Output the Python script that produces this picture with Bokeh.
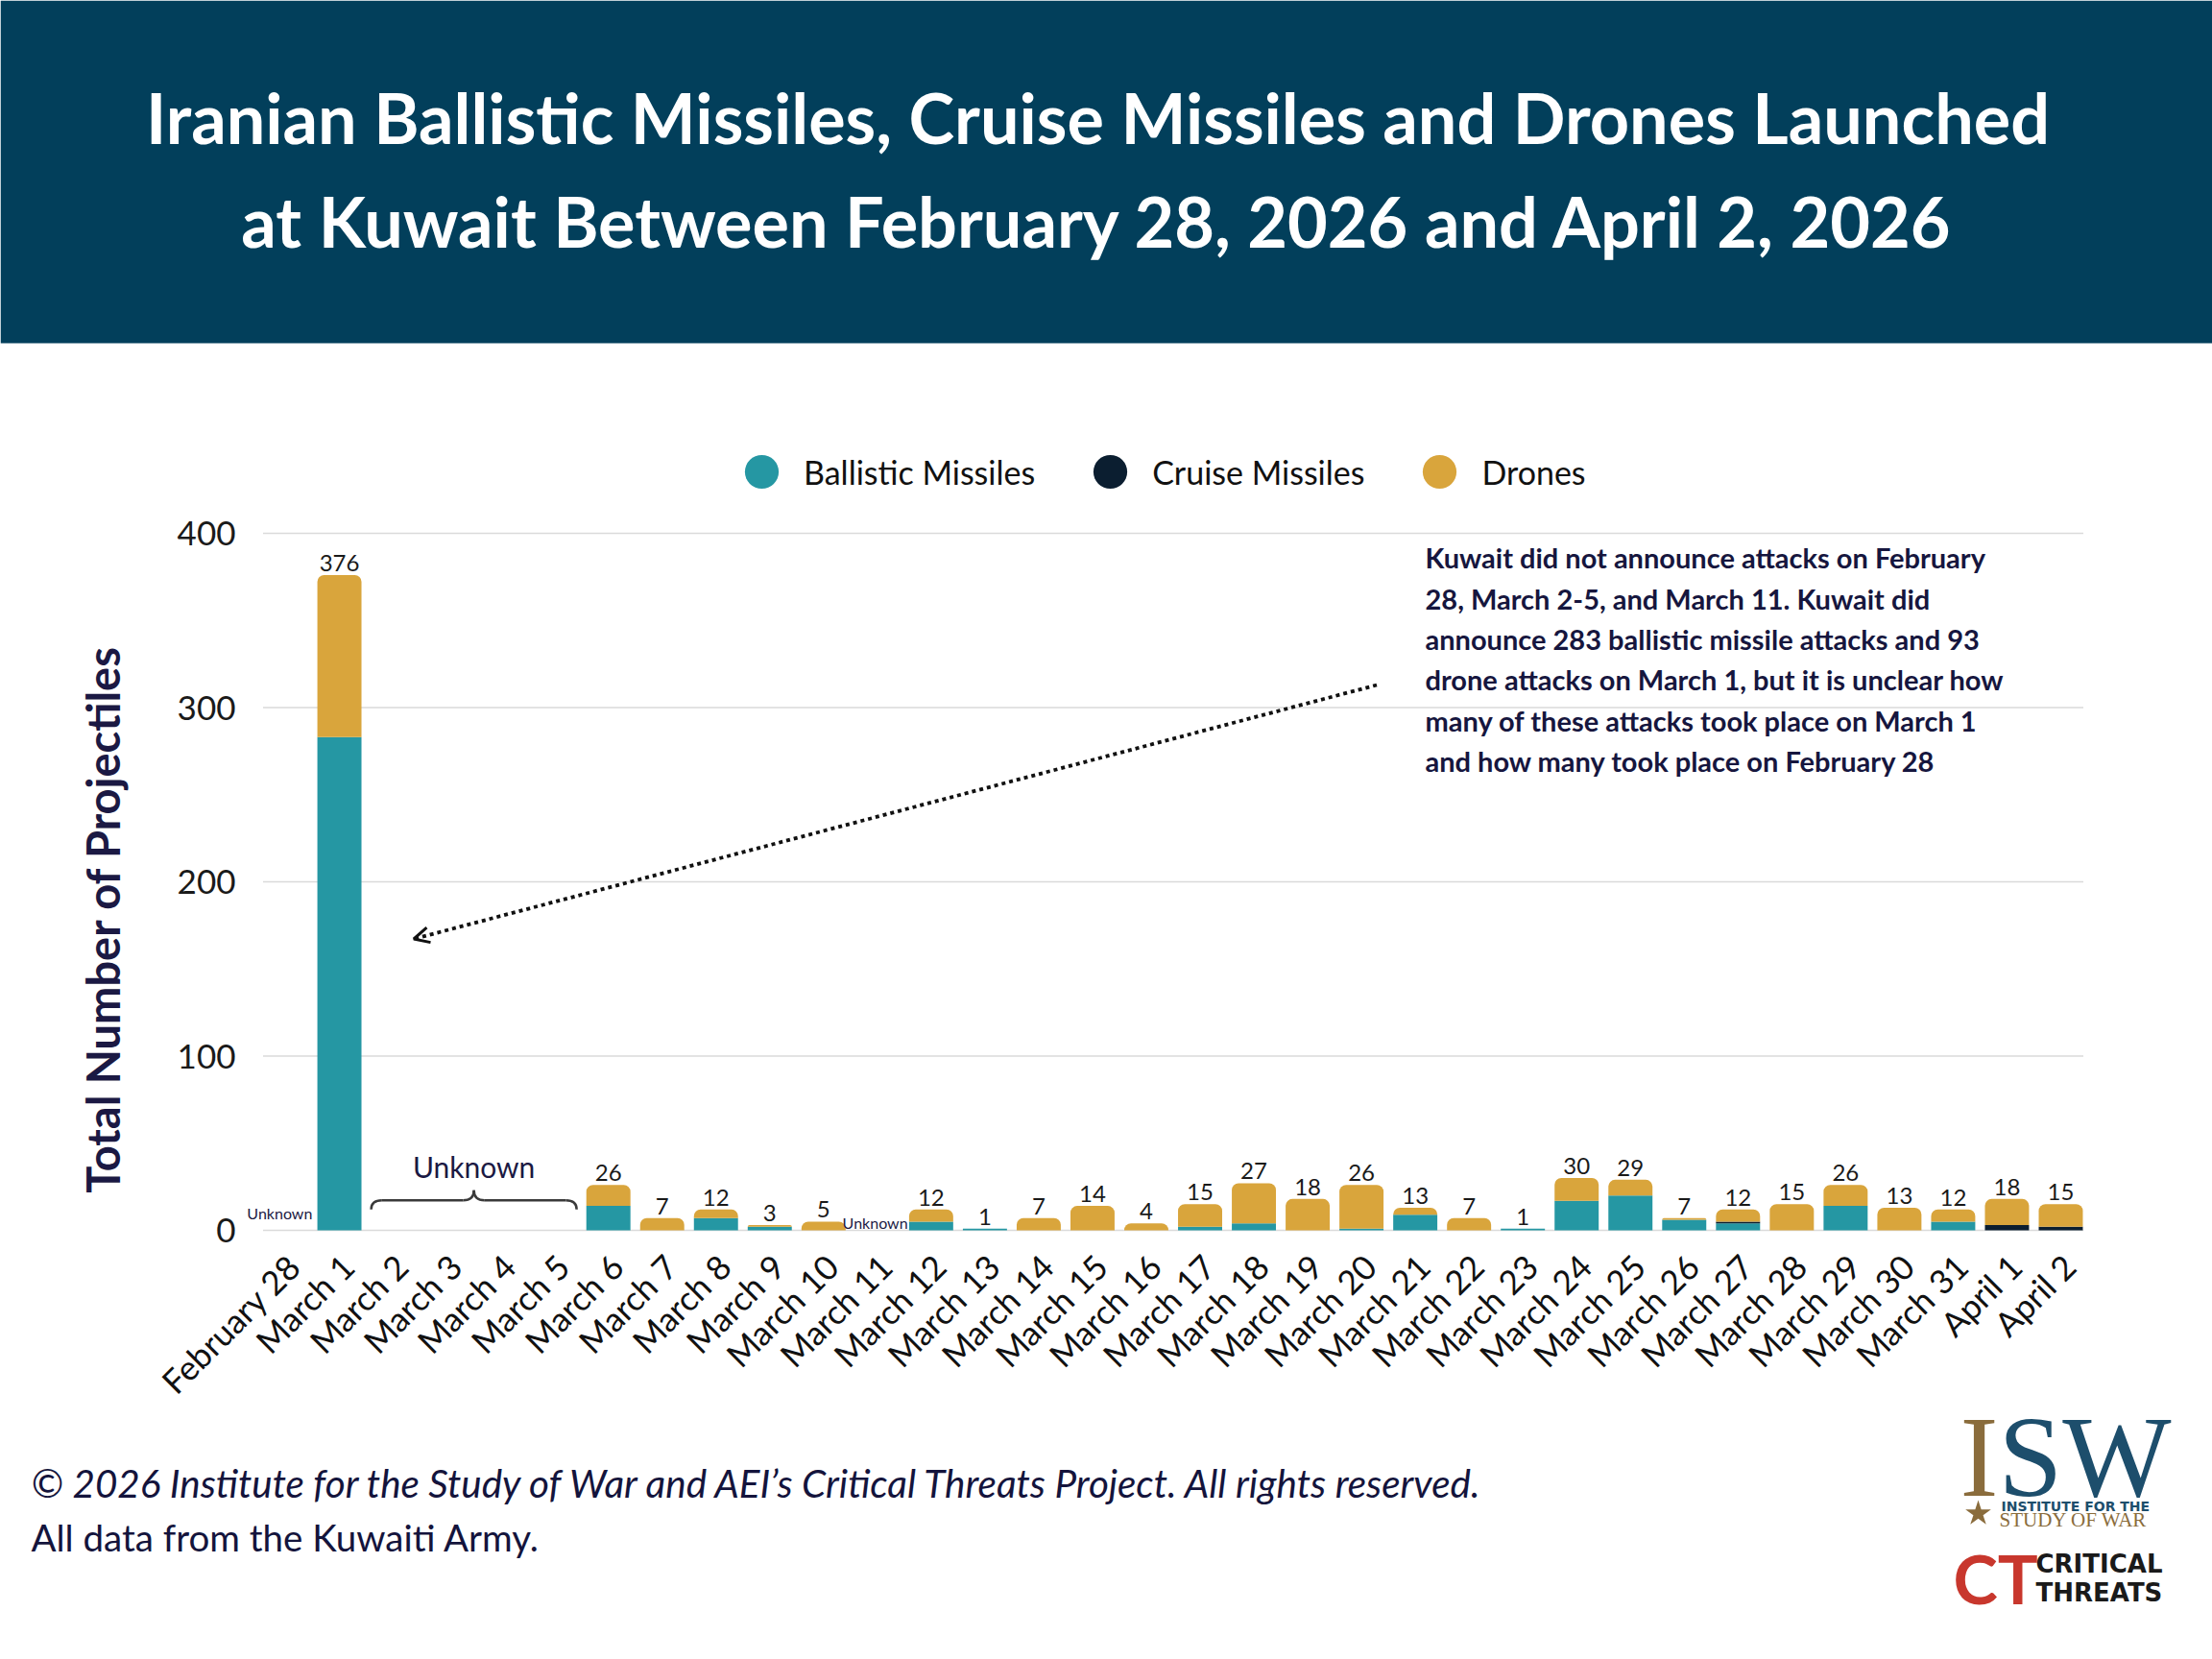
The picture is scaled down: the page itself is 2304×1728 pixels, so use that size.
import math

from bokeh.core.properties import value
from bokeh.embed import file_html
from bokeh.models import (Arrow, BoxAnnotation, ColumnDataSource, FixedTicker,
                          Legend, LegendItem, OpenHead, Range1d)
from bokeh.plotting import figure
from bokeh.resources import INLINE
from bokeh.transform import stack

# ---------------------------------------------------------------- data
dates = [
    "February 28", "March 1", "March 2", "March 3", "March 4", "March 5",
    "March 6", "March 7", "March 8", "March 9", "March 10", "March 11",
    "March 12", "March 13", "March 14", "March 15", "March 16", "March 17",
    "March 18", "March 19", "March 20", "March 21", "March 22", "March 23",
    "March 24", "March 25", "March 26", "March 27", "March 28", "March 29",
    "March 30", "March 31", "April 1", "April 2",
]
ballistic = [0, 283, 0, 0, 0, 0, 14, 0, 7, 2, 0, 0, 5, 1, 0, 0, 0,
             2, 4, 0, 1, 9, 0, 1, 17, 20, 6, 4, 0, 14, 0, 5, 0, 0]
cruise = [0, 0, 0, 0, 0, 0, 0, 0, 0, 0, 0, 0, 0, 0, 0, 0, 0,
          0, 0, 0, 0, 0, 0, 0, 0, 0, 0, 1, 0, 0, 0, 0, 3, 2]
drones = [0, 93, 0, 0, 0, 0, 12, 7, 5, 1, 5, 0, 7, 0, 7, 14, 4,
          13, 23, 18, 25, 4, 7, 0, 13, 9, 1, 7, 15, 12, 13, 7, 15, 13]
unknown_days = ["February 28", "March 11"]
unannounced_span = ["March 2", "March 5"]
y_ticks = [0, 100, 200, 300, 400]
series_names = ["Ballistic Missiles", "Cruise Missiles", "Drones"]

title_lines = [
    "Iranian Ballistic Missiles, Cruise Missiles and Drones Launched",
    "at Kuwait Between February 28, 2026 and April 2, 2026",
]
y_title = "Total Number of Projectiles"
note_lines = [
    "Kuwait did not announce attacks on February",
    "28, March 2-5, and March 11. Kuwait did",
    "announce 283 ballistic missile attacks and 93",
    "drone attacks on March 1, but it is unclear how",
    "many of these attacks took place on March 1",
    "and how many took place on February 28",
]
credit_line = ("\u00a9 2026 Institute for the Study of War and AEI\u2019s "
               "Critical Threats Project. All rights reserved.")
source_line = "All data from the Kuwaiti Army."

# ---------------------------------------------------------------- style
TEAL = "#2597a3"
NAVY = "#0b1e30"
GOLD = "#d9a53c"
HEADER = "#023f5b"
INK = "#1b1943"
INK2 = "#14143c"
GRID = "#dadada"
SANS = "Lato"
SERIF = "Liberation Serif"
ISW_GOLD = "#8a6c3c"
ISW_BLUE = "#1d4e6c"
CT_RED = "#c8372d"

PAGE_W, PAGE_H = 2304, 1728
HEADER_H = 357
# the chart occupies the whole page; one category band and one y unit in px
BAND = 1905 / len(dates)
PXU = 726 / 400
CENTER0_PX = 269 + BAND / 2      # page x of the first category's centre
ZERO_PY = 1281                   # page y of the value 0
LABEL_SHIFT = 0.15               # date labels sit a little right of centre


def X(px):
    """data x of a page x position"""
    return (px - CENTER0_PX) / BAND


def Y(py):
    """data y of a page y position"""
    return (ZERO_PY - py) / PXU


totals = [b + c + d for b, c, d in zip(ballistic, cruise, drones)]
xpos = list(range(len(dates)))

p = figure(width=PAGE_W, height=PAGE_H, output_backend="svg",
           toolbar_location=None, title_location=None,
           x_range=Range1d(X(0), X(PAGE_W)), y_range=Range1d(Y(PAGE_H), Y(0)),
           min_border_left=0, min_border_right=0,
           min_border_top=0, min_border_bottom=0)
p.extra_x_ranges = {"date_labels": Range1d(X(0) - LABEL_SHIFT,
                                           X(PAGE_W) - LABEL_SHIFT)}
p.outline_line_color = None
p.background_fill_color = "white"
p.border_fill_color = "white"
p.grid.visible = False


def txt(px, py, text, size, color=INK, font=SANS, style="normal",
        align="left", baseline="alphabetic", angle=0.0):
    p.text(x=[X(px)], y=[Y(py)], text=[text], text_font=value(font),
           text_font_size=f"{size}px", text_font_style=style,
           text_color=color, text_align=align, text_baseline=baseline,
           angle=angle)


def line_at(px, baseline_py, text, size, **kw):
    # alphabetic text sits about a third of an em low in the svg output
    txt(px, baseline_py - 0.33 * size, text, size, **kw)


# ---------------------------------------------------------------- header band
p.add_layout(BoxAnnotation(bottom=Y(HEADER_H), fill_color=HEADER,
                           fill_alpha=1.0, line_color=None, level="underlay"))
for yb, line in zip([145, 253], title_lines):
    line_at(1143, yb, line, 72, color="white", style="bold", align="center")

# ---------------------------------------------------------------- gridlines
n = len(dates)
p.segment(x0=[-0.42] * len(y_ticks), x1=[n - 1 + 0.42] * len(y_ticks),
          y0=y_ticks, y1=y_ticks, line_color=GRID, line_width=1.5,
          level="underlay")

# ---------------------------------------------------------------- bars
src = ColumnDataSource(dict(x=xpos, date=dates, ballistic=ballistic,
                            cruise=cruise, drones=drones, total=totals))
BAR_W = 0.82
p.vbar(x="x", bottom=0, top=stack("ballistic"), width=BAR_W,
       source=src, fill_color=TEAL, line_color=None)
p.vbar(x="x", bottom=stack("ballistic"), top=stack("ballistic", "cruise"),
       width=BAR_W, source=src, fill_color=NAVY, line_color=None)
p.vbar(x="x", bottom=stack("ballistic", "cruise"),
       top=stack("ballistic", "cruise", "drones"), width=BAR_W,
       source=src, fill_color=GOLD, line_color=None,
       border_radius=(7, 7, 0, 0))

# totals above the bars
lab = ColumnDataSource(dict(
    x=[i for i, t in zip(xpos, totals) if t > 0],
    total=[t for t in totals if t > 0],
    text=[str(t) for t in totals if t > 0],
))
p.text(x="x", y="total", text="text", source=lab,
       text_font=value(SANS), text_font_size="24px", text_color="#1a1a1a",
       text_align="center", text_baseline="bottom", y_offset=-4)

# days without an announcement
for day, dx, yv in zip(unknown_days, (-0.11, -0.04), (9.9, 4.4)):
    p.text(x=[dates.index(day) + dx], y=[yv], text=["Unknown"],
           text_font=value(SANS), text_font_size="16px", text_color=INK,
           text_align="center", text_baseline="middle")

# curly brace over the unannounced stretch
i0 = dates.index(unannounced_span[0]) - 0.41
i1 = dates.index(unannounced_span[1]) + 0.41
im = (i0 + i1) / 2
y_end, y_bar, y_tip = 12.0, 17.2, 23.0
d = 0.2
BRACE = dict(line_color="#3a3a3a", line_width=2.5)
p.quadratic(x0=[i0, i1], y0=[y_end, y_end], x1=[i0 + d, i1 - d],
            y1=[y_bar, y_bar], cx=[i0, i1], cy=[y_bar, y_bar], **BRACE)
p.segment(x0=[i0 + d, im + d], y0=[y_bar, y_bar], x1=[im - d, i1 - d],
          y1=[y_bar, y_bar], **BRACE)
p.quadratic(x0=[im - d, im + d], y0=[y_bar, y_bar], x1=[im, im],
            y1=[y_tip, y_tip], cx=[im, im], cy=[y_bar, y_bar], **BRACE)
p.text(x=[im], y=[36.5], text=["Unknown"], text_font=value(SANS),
       text_font_size="30px", text_color=INK, text_align="center",
       text_baseline="alphabetic")

# note and pointer toward the March 1 bar
p.add_layout(Arrow(end=OpenHead(size=16, line_width=3, line_color="#111111"),
                   x_start=X(1433.5), y_start=Y(713), x_end=X(430.5),
                   y_end=Y(977.5), line_color="#111111", line_width=3.8,
                   line_dash="4 4"))
for k, line in enumerate(note_lines):
    txt(1484, 580.4 + 42.3 * k, line, 29, color="#16163e", style="bold")

# legend with round swatches (each swatch renderer holds one off-page point)
swatches = [p.scatter(x=[0], y=[Y(PAGE_H) - 100], marker="circle",
                      fill_color=c, line_color=None)
            for c in (TEAL, NAVY, GOLD)]
legend = Legend(items=[LegendItem(label=nm, renderers=[r])
                       for nm, r in zip(series_names, swatches)],
                orientation="horizontal", location=(749, PAGE_H - 535),
                glyph_width=88, glyph_height=88, label_standoff=0,
                spacing=34, padding=0, margin=0,
                border_line_color=None, background_fill_alpha=0,
                label_text_font=SANS, label_text_font_size="34px",
                label_text_color="#111111")
p.add_layout(legend)

# ---------------------------------------------------------------- axes
p.yaxis.fixed_location = -0.5
p.yaxis.ticker = FixedTicker(ticks=y_ticks)
p.yaxis.axis_line_color = None
p.yaxis.major_tick_line_color = None
p.yaxis.minor_tick_line_color = None
p.yaxis.major_tick_out = 0
p.yaxis.major_label_standoff = 24
p.yaxis.major_label_text_font = SANS
p.yaxis.major_label_text_font_size = "35px"
p.yaxis.major_label_text_color = "#1a1a1a"

p.xaxis.x_range_name = "date_labels"
p.xaxis.fixed_location = 0
p.xaxis.ticker = FixedTicker(ticks=xpos)
p.xaxis.major_label_overrides = {i: dname for i, dname in zip(xpos, dates)}
p.xaxis.axis_line_color = None
p.xaxis.major_tick_line_color = None
p.xaxis.minor_tick_line_color = None
p.xaxis.major_tick_out = 0
p.xaxis.major_label_orientation = math.pi / 4
p.xaxis.major_label_standoff = 31
p.xaxis.major_label_text_font = SANS
p.xaxis.major_label_text_font_size = "35px"
p.xaxis.major_label_text_color = "#111111"

txt(106, 957, y_title, 47, color=INK, style="bold", align="center",
    baseline="middle", angle=math.pi / 2)

# ---------------------------------------------------------------- footer
line_at(32, 1557, credit_line, 40.4, color=INK2, style="italic")
line_at(32, 1613, source_line, 38.5, color=INK2)

# ISW mark
line_at(2041, 1557, "I", 120, color=ISW_GOLD, font=SERIF)
line_at(2081, 1557, "SW", 120, color=ISW_BLUE, font=SERIF)
line_at(2084, 1573, "INSTITUTE FOR THE", 14, color=ISW_BLUE,
        font="DejaVu Sans", style="bold")
line_at(2082, 1589, "STUDY OF WAR", 21, color=ISW_GOLD, font=SERIF)
p.scatter(x=[X(2060)], y=[Y(1576)], marker="star", size=28,
          fill_color=ISW_GOLD, line_color=None)

# Critical Threats mark
txt(2034, 1643, "CT", 70, color=CT_RED, style="bold")
txt(2120, 1628, "CRITICAL", 26, color="#1a1a1a", font="DejaVu Sans",
    style="bold")
txt(2120, 1658, "THREATS", 26, color="#1a1a1a", font="DejaVu Sans",
    style="bold")

open("out.html", "w").write(file_html(p, INLINE))
